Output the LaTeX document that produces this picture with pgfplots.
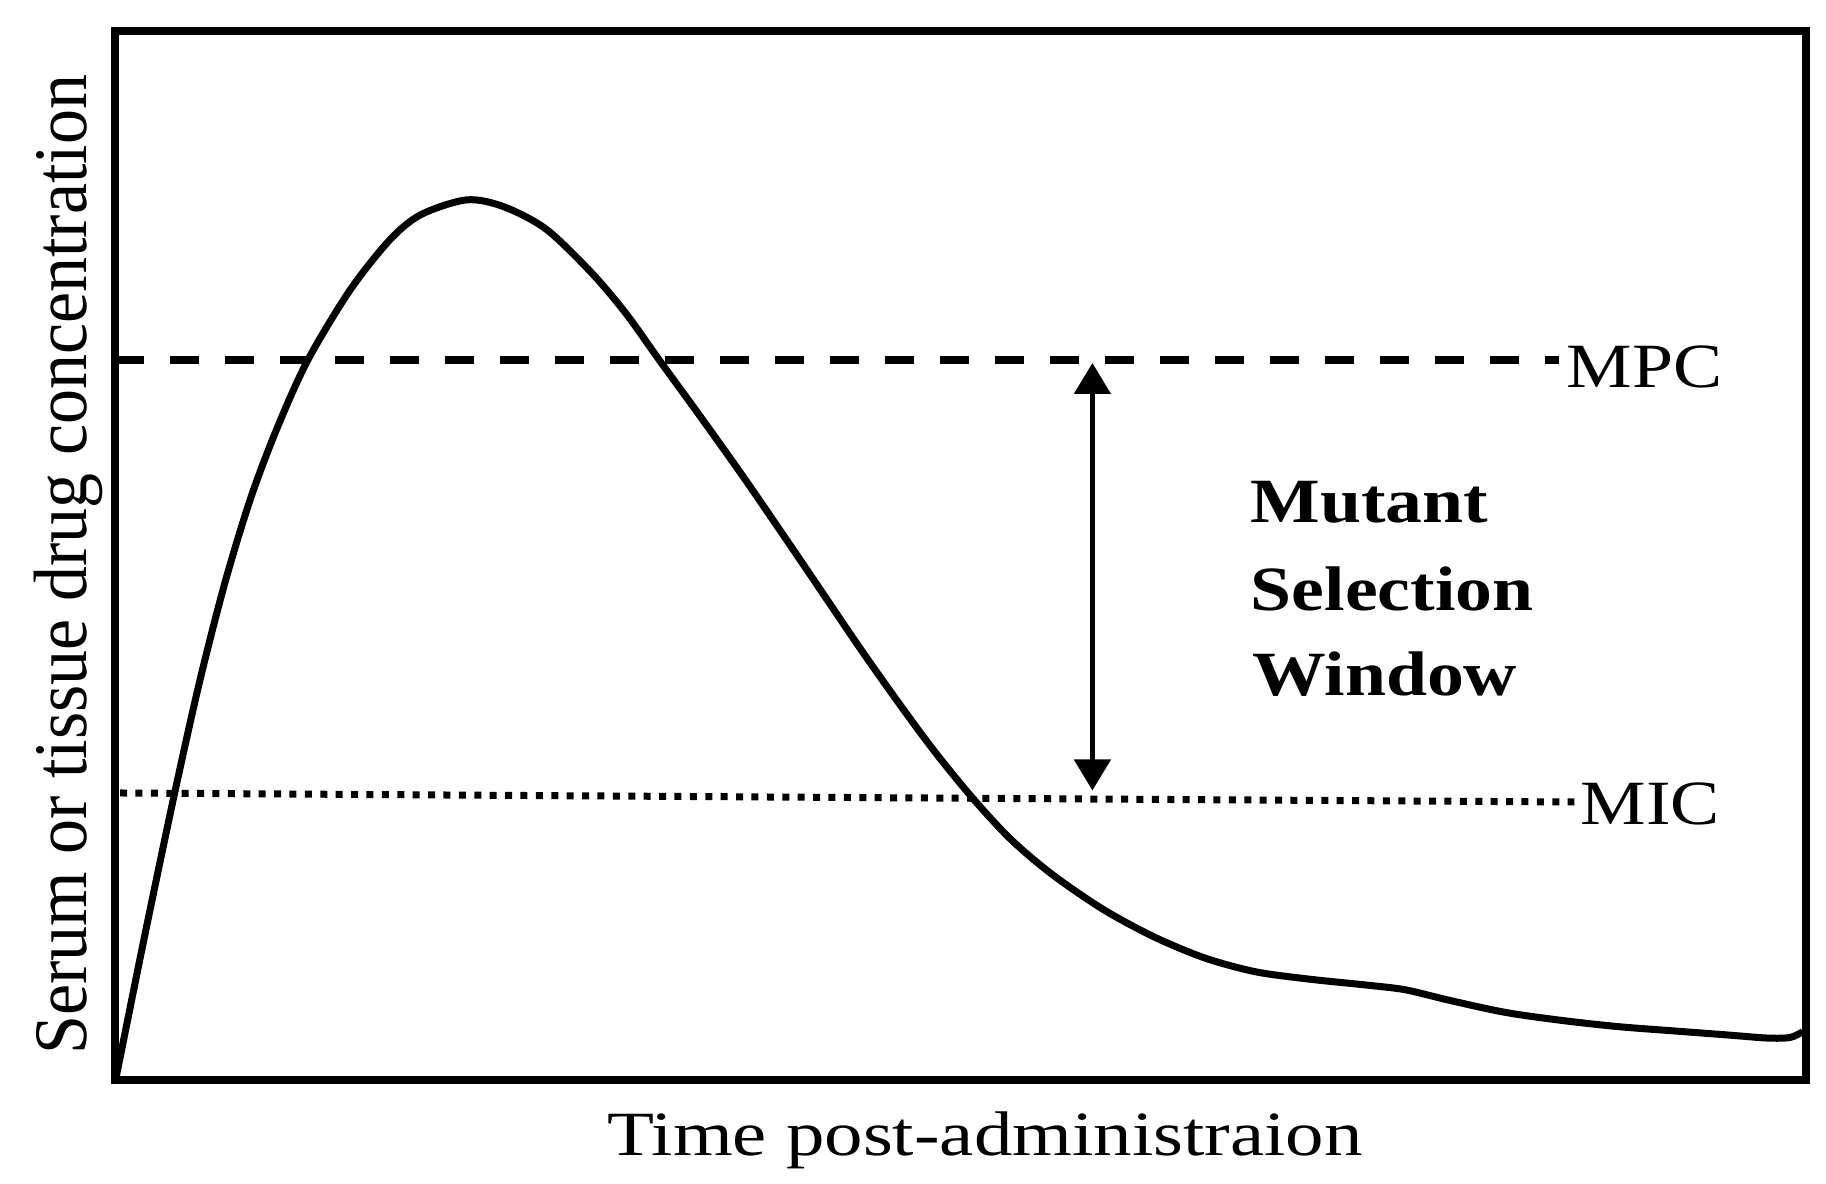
\documentclass[border=0pt]{standalone}
\usepackage{fontspec}
\setmainfont{Liberation Serif}
\usepackage{graphicx}
\usepackage{pgfplots}
\pgfplotsset{compat=1.18}
\usetikzlibrary{arrows.meta}
\begin{document}
\begin{tikzpicture}
\useasboundingbox (-28.75pt,-26pt) rectangle (427.75pt,270pt);
\begin{axis}[
  at={(0pt,0pt)}, anchor=south west,
  scale only axis,
  width=422.75pt, height=262.25pt,
  xmin=0, xmax=100, ymin=0, ymax=100,
  xtick=\empty, ytick=\empty,
  axis line style={line width=2pt},
  axis on top,
  clip=true,
  xlabel={\fontsize{15.75}{19}\selectfont\scalebox{1.22}[1]{Time post-administraion}},
  xlabel style={at={(axis description cs:0.5145,-0.0724)}, anchor=base, inner sep=0pt},
  ylabel={\fontsize{17.5}{21}\selectfont\scalebox{1}[1.08]{Serum or tissue drug concentration}},
  ylabel style={at={(axis description cs:-0.0166,0.491)}, anchor=base, rotate=0, inner sep=0pt},
]
% concentration-time curve
\addplot[line width=1.75pt, smooth, tension=0.5] coordinates {
(0.06,0.2) (1.75,13.7) (3.5,27.15) (5.0,37.95) (6.5,47.4) (8.0,55.35) (9.5,61.8)
(11.36,68.5) (13.9,75.3) (16.26,80.1) (18.1,82.5) (20.8,83.9) (23.0,83.24)
(25.5,81.1) (28.15,77.0) (30.2,73.1) (32.2,68.6) (34.77,62.9) (37.37,57.0)
(40.51,49.6) (44.47,40.2) (48.0,32.3) (50.65,27.0) (53.0,22.9) (55.5,19.5)
(58.5,16.2) (61.5,13.6) (64.5,11.6) (67.5,10.3) (70.7,9.6) (74.0,9.05)
(76.3,8.6) (78.9,7.6) (82.2,6.45) (85.45,5.7) (88.8,5.1) (92.0,4.7)
(95.3,4.3) (97.7,4.0) (99.05,4.05) (99.8,4.6)
};
% MPC line
\addplot[line width=2pt, dash pattern=on 7.25pt off 6.5pt] coordinates {(0,68.6) (85.4,68.6)};
% MIC line
\addplot[line width=1.75pt, dash pattern=on 1.75pt off 2.1pt] coordinates {(0.3,27.36) (86.3,26.5)};
% window arrow
\addplot[line width=1.25pt, {Triangle[length=7.75pt,width=9pt]}-{Triangle[length=7.75pt,width=9pt]}] coordinates {(57.8,68.35) (57.8,27.6)};
\node[anchor=base west, inner sep=0pt] at (axis cs:85.8,66.06) {\fontsize{15.75}{19}\selectfont\scalebox{1.17}[1]{MPC}};
\node[anchor=base west, inner sep=0pt] at (axis cs:86.64,24.31) {\fontsize{15.75}{19}\selectfont\scalebox{1.17}[1]{MIC}};
\node[anchor=base west, inner sep=0pt] at (axis cs:67.12,53.19) {\fontsize{15.75}{19}\selectfont\bfseries\scalebox{1.17}[1]{Mutant}};
\node[anchor=base west, inner sep=0pt] at (axis cs:67.12,44.71) {\fontsize{15.75}{19}\selectfont\bfseries\scalebox{1.17}[1]{Selection}};
\node[anchor=base west, inner sep=0pt] at (axis cs:67.2,36.61) {\fontsize{15.75}{19}\selectfont\bfseries\scalebox{1.17}[1]{Window}};
\end{axis}
\end{tikzpicture}
\end{document}
